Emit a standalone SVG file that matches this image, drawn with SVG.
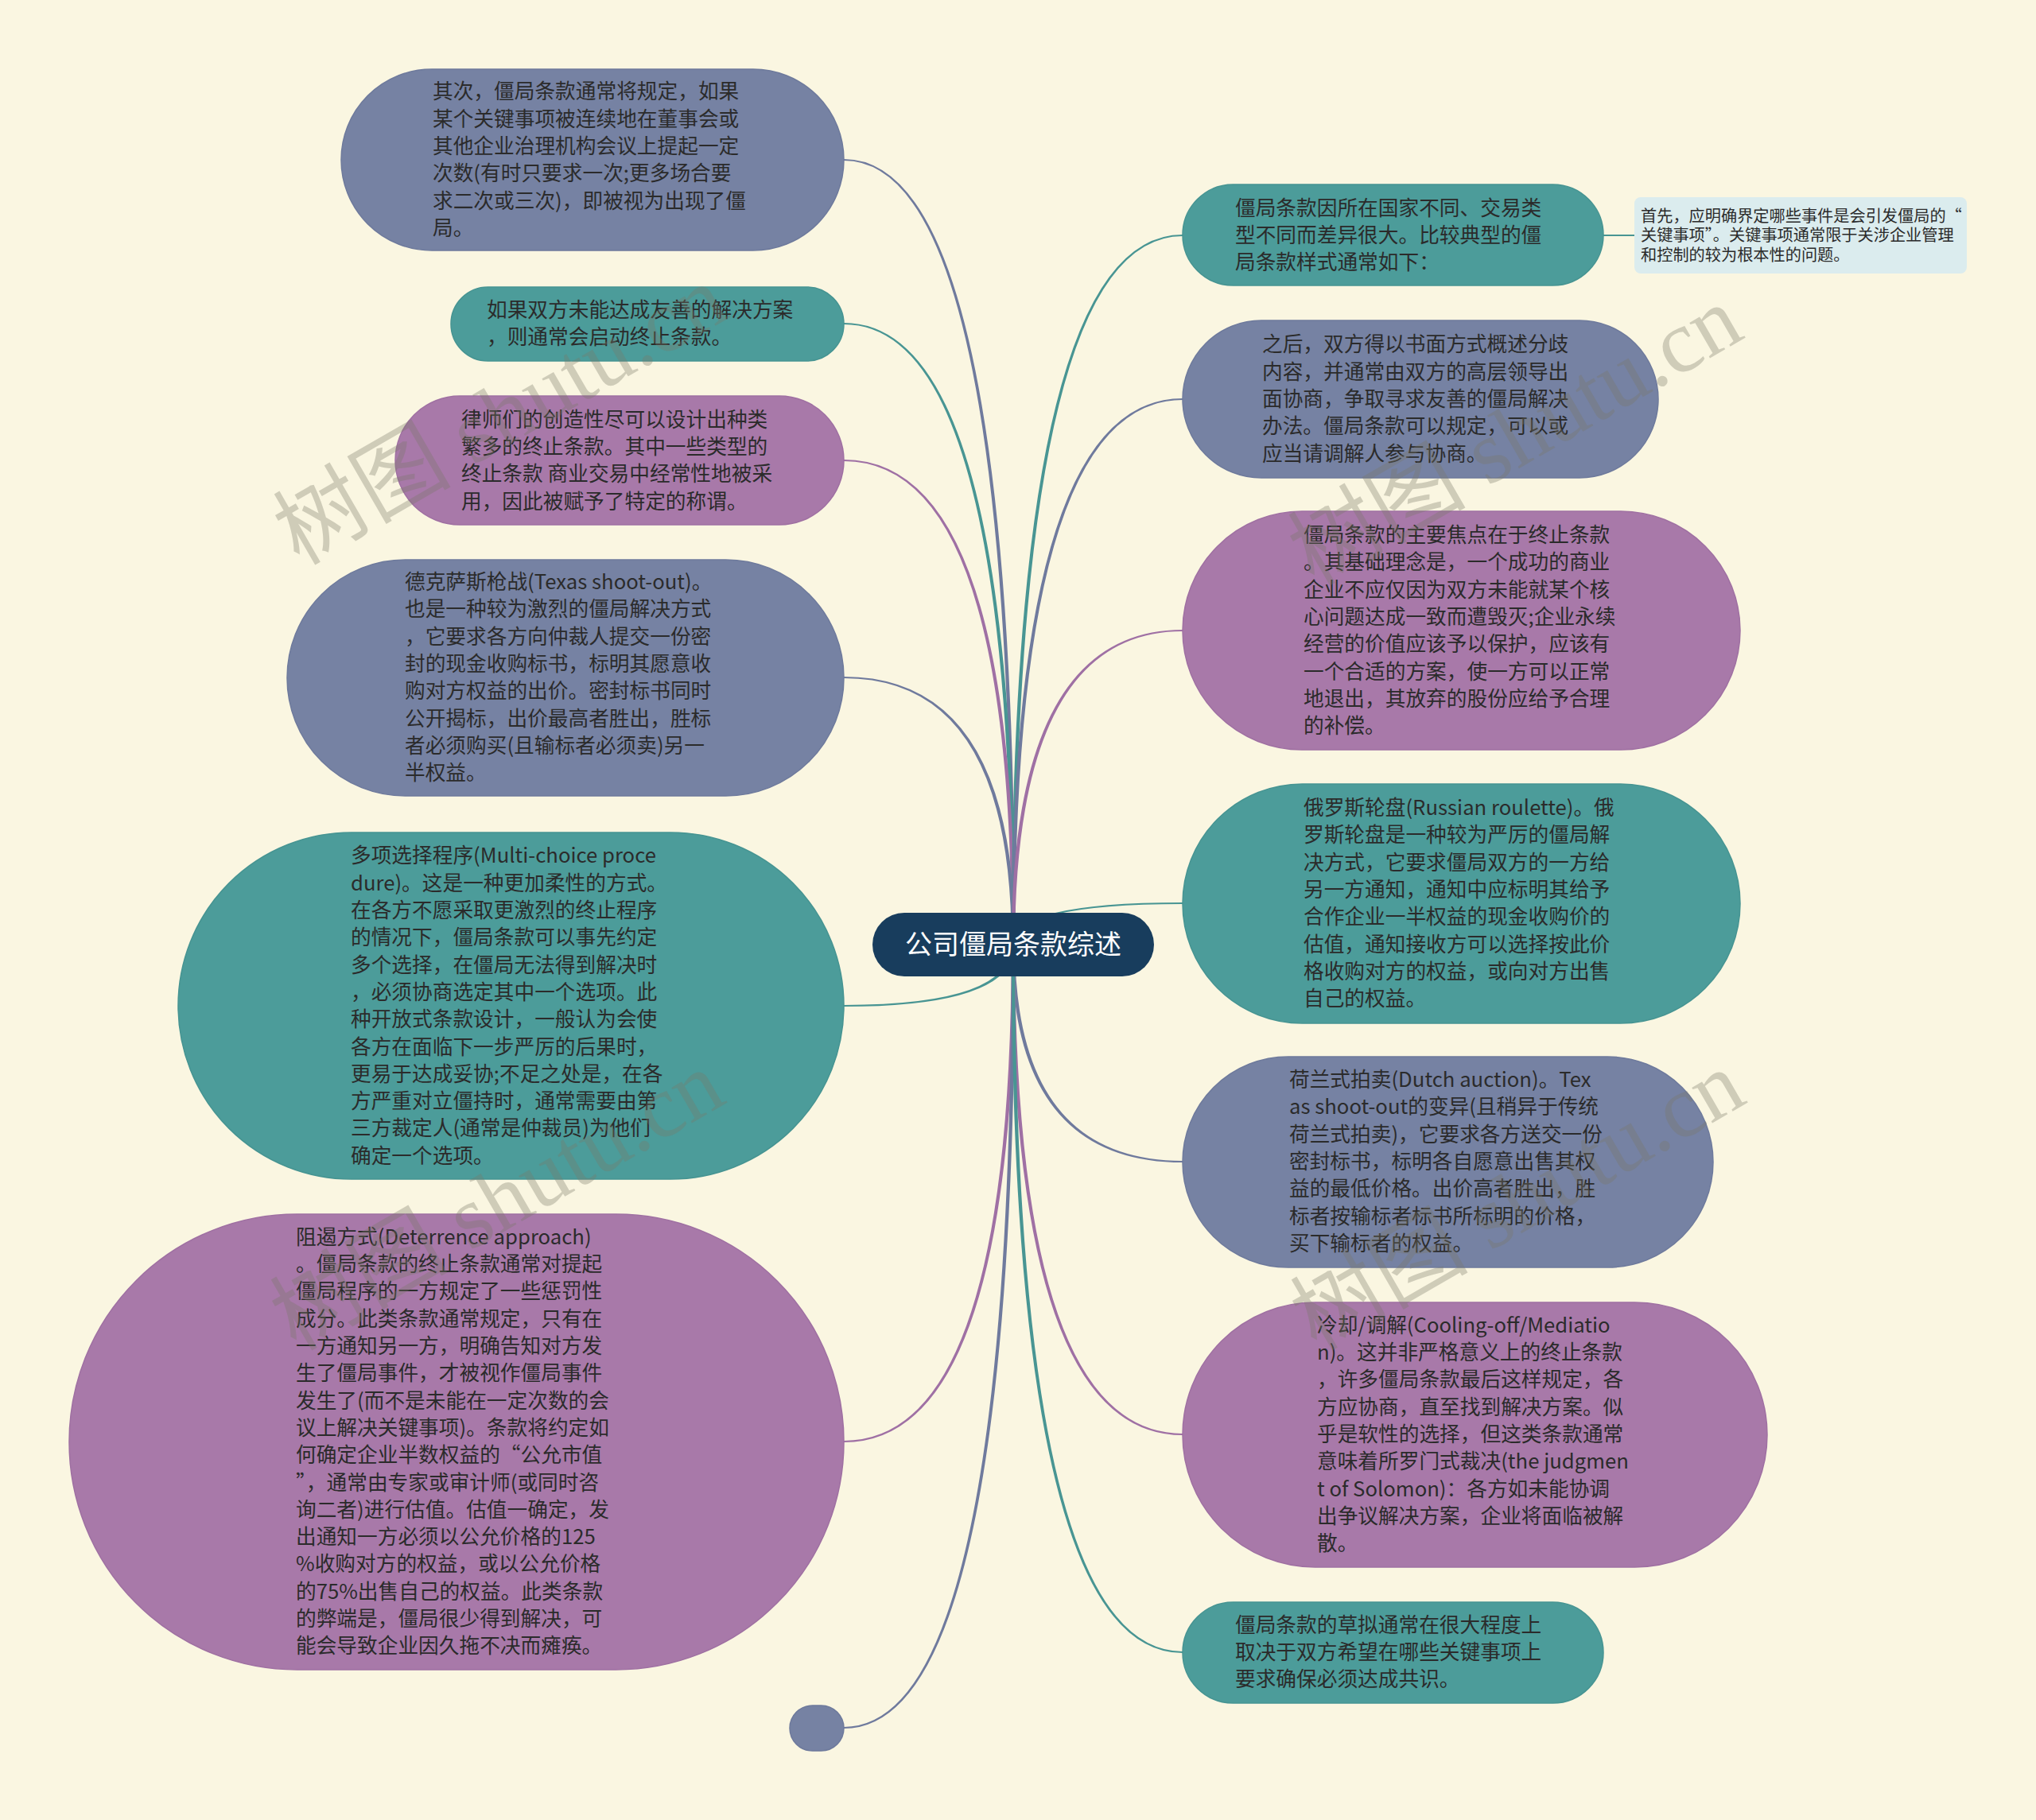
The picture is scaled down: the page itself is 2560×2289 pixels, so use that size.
<svg xmlns="http://www.w3.org/2000/svg" width="2560" height="2289" viewBox="0 0 2560 2289">
<style>
.t{font-family:"Noto Sans CJK SC","Noto Sans",sans-serif;font-size:25.7px;fill:#2b2b2b}
.ts{font-family:"Noto Sans CJK SC","Noto Sans",sans-serif;font-size:20.2px;fill:#2b2b2b}
.ct{font-family:"Noto Sans CJK SC","Noto Sans",sans-serif;font-size:34px;fill:#ffffff}
.slate{fill:#7682a3;stroke:#6e7a9c;stroke-width:1.5}
.teal{fill:#4c9c9a;stroke:#469492;stroke-width:1.5}
.purple{fill:#a879a9;stroke:#9f70a2;stroke-width:1.5}
.cs{fill:#6f7a9d}
.ctl{fill:#489593}
.cp{fill:#9f70a4}
.wm{font-family:"Liberation Serif","Noto Sans CJK SC",serif;font-size:112px;fill:#7a7868;opacity:0.33}
</style>
<rect width="2560" height="2289" fill="#faf6e1"/>
<g id="connectors">
<path class="cs" d="M1276.2 1188 Q1276.2 199.9 1061 199.9 L1061 202.1 Q1271.8 202.1 1271.8 1188 Z"/>
<path class="ctl" d="M1276.2 1188 Q1276.2 405.9 1061 405.9 L1061 408.1 Q1271.8 408.1 1271.8 1188 Z"/>
<path class="cp" d="M1276.2 1188 Q1276.2 577.9 1061 577.9 L1061 580.1 Q1271.8 580.1 1271.8 1188 Z"/>
<path class="cs" d="M1276.2 1188 Q1276.2 850.9 1061 850.9 L1061 853.1 Q1271.8 853.1 1271.8 1188 Z"/>
<path class="ctl" d="M1276.2 1188 Q1276.2 1266.1 1061 1266.1 L1061 1263.9 Q1271.8 1263.9 1271.8 1188 Z"/>
<path class="cp" d="M1276.2 1188 Q1276.2 1814.1 1061 1814.1 L1061 1811.9 Q1271.8 1811.9 1271.8 1188 Z"/>
<path class="cs" d="M1276.2 1188 Q1276.2 2174.1 1061 2174.1 L1061 2171.9 Q1271.8 2171.9 1271.8 1188 Z"/>
<path class="ctl" d="M1271.8 1188 Q1271.8 294.9 1487 294.9 L1487 297.1 Q1276.2 297.1 1276.2 1188 Z"/>
<path class="cs" d="M1271.8 1188 Q1271.8 500.9 1487 500.9 L1487 503.1 Q1276.2 503.1 1276.2 1188 Z"/>
<path class="cp" d="M1271.8 1188 Q1271.8 791.9 1487 791.9 L1487 794.1 Q1276.2 794.1 1276.2 1188 Z"/>
<path class="ctl" d="M1271.8 1188 Q1271.8 1134.9 1487 1134.9 L1487 1137.1 Q1276.2 1137.1 1276.2 1188 Z"/>
<path class="cs" d="M1271.8 1188 Q1271.8 1462.1 1487 1462.1 L1487 1459.9 Q1276.2 1459.9 1276.2 1188 Z"/>
<path class="cp" d="M1271.8 1188 Q1271.8 1805.1 1487 1805.1 L1487 1802.9 Q1276.2 1802.9 1276.2 1188 Z"/>
<path class="ctl" d="M1271.8 1188 Q1271.8 2079.1 1487 2079.1 L1487 2076.9 Q1276.2 2076.9 1276.2 1188 Z"/>
<path d="M2016 296 L2055 296" stroke="#489593" stroke-width="2.2" fill="none"/>
</g>
<g id="node-L1">
<rect class="slate" x="429" y="87" width="632" height="228" rx="114"/>
<text class="t" x="544" y="124.3"><tspan x="544">其次，僵局条款通常将规定，如果</tspan><tspan x="544" dy="34.3">某个关键事项被连续地在董事会或</tspan><tspan x="544" dy="34.3">其他企业治理机构会议上提起一定</tspan><tspan x="544" dy="34.3">次数(有时只要求一次;更多场合要</tspan><tspan x="544" dy="34.3">求二次或三次)，即被视为出现了僵</tspan><tspan x="544" dy="34.3">局。</tspan></text>
</g>
<g id="node-L2">
<rect class="teal" x="567" y="361" width="494" height="93" rx="46.5"/>
<text class="t" x="612" y="398.9"><tspan x="612">如果双方未能达成友善的解决方案</tspan><tspan x="612" dy="34.3">，则通常会启动终止条款。</tspan></text>
</g>
<g id="node-L3">
<rect class="purple" x="497" y="498" width="564" height="162" rx="81"/>
<text class="t" x="580" y="536.6"><tspan x="580">律师们的创造性尽可以设计出种类</tspan><tspan x="580" dy="34.3">繁多的终止条款。其中一些类型的</tspan><tspan x="580" dy="34.3">终止条款 商业交易中经常性地被采</tspan><tspan x="580" dy="34.3">用，因此被赋予了特定的称谓。</tspan></text>
</g>
<g id="node-L4">
<rect class="slate" x="361" y="704" width="700" height="297" rx="148.5"/>
<text class="t" x="509" y="741"><tspan x="509">德克萨斯枪战(Texas shoot-out)。</tspan><tspan x="509" dy="34.3">也是一种较为激烈的僵局解决方式</tspan><tspan x="509" dy="34.3">，它要求各方向仲裁人提交一份密</tspan><tspan x="509" dy="34.3">封的现金收购标书，标明其愿意收</tspan><tspan x="509" dy="34.3">购对方权益的出价。密封标书同时</tspan><tspan x="509" dy="34.3">公开揭标，出价最高者胜出，胜标</tspan><tspan x="509" dy="34.3">者必须购买(且输标者必须卖)另一</tspan><tspan x="509" dy="34.3">半权益。</tspan></text>
</g>
<g id="node-L5">
<rect class="teal" x="224" y="1047" width="837" height="436" rx="218"/>
<text class="t" x="441" y="1085.4"><tspan x="441">多项选择程序(Multi-choice proce</tspan><tspan x="441" dy="34.3">dure)。这是一种更加柔性的方式。</tspan><tspan x="441" dy="34.3">在各方不愿采取更激烈的终止程序</tspan><tspan x="441" dy="34.3">的情况下，僵局条款可以事先约定</tspan><tspan x="441" dy="34.3">多个选择，在僵局无法得到解决时</tspan><tspan x="441" dy="34.3">，必须协商选定其中一个选项。此</tspan><tspan x="441" dy="34.3">种开放式条款设计，一般认为会使</tspan><tspan x="441" dy="34.3">各方在面临下一步严厉的后果时，</tspan><tspan x="441" dy="34.3">更易于达成妥协;不足之处是，在各</tspan><tspan x="441" dy="34.3">方严重对立僵持时，通常需要由第</tspan><tspan x="441" dy="34.3">三方裁定人(通常是仲裁员)为他们</tspan><tspan x="441" dy="34.3">确定一个选项。</tspan></text>
</g>
<g id="node-L6">
<rect class="purple" x="87" y="1527" width="974" height="573" rx="286.5"/>
<text class="t" x="372" y="1564.8"><tspan x="372">阻遏方式(Deterrence approach)</tspan><tspan x="372" dy="34.3">。僵局条款的终止条款通常对提起</tspan><tspan x="372" dy="34.3">僵局程序的一方规定了一些惩罚性</tspan><tspan x="372" dy="34.3">成分。此类条款通常规定，只有在</tspan><tspan x="372" dy="34.3">一方通知另一方，明确告知对方发</tspan><tspan x="372" dy="34.3">生了僵局事件，才被视作僵局事件</tspan><tspan x="372" dy="34.3">发生了(而不是未能在一定次数的会</tspan><tspan x="372" dy="34.3">议上解决关键事项)。条款将约定如</tspan><tspan x="372" dy="34.3">何确定企业半数权益的“公允市值</tspan><tspan x="372" dy="34.3">”，通常由专家或审计师(或同时咨</tspan><tspan x="372" dy="34.3">询二者)进行估值。估值一确定，发</tspan><tspan x="372" dy="34.3">出通知一方必须以公允价格的125</tspan><tspan x="372" dy="34.3">%收购对方的权益，或以公允价格</tspan><tspan x="372" dy="34.3">的75%出售自己的权益。此类条款</tspan><tspan x="372" dy="34.3">的弊端是，僵局很少得到解决，可</tspan><tspan x="372" dy="34.3">能会导致企业因久拖不决而瘫痪。</tspan></text>
</g>
<g id="node-L7">
<rect class="slate" x="993" y="2145" width="68" height="57" rx="28.5"/>
</g>
<g id="node-R1">
<rect class="teal" x="1487" y="232" width="529" height="127" rx="63.5"/>
<text class="t" x="1553" y="270.7"><tspan x="1553">僵局条款因所在国家不同、交易类</tspan><tspan x="1553" dy="34.3">型不同而差异很大。比较典型的僵</tspan><tspan x="1553" dy="34.3">局条款样式通常如下：</tspan></text>
</g>
<g id="node-R1a">
<rect x="2055" y="248" width="418" height="96" rx="8" fill="#dbecee"/>
<text class="ts" x="2063" y="278.6"><tspan x="2063">首先，应明确界定哪些事件是会引发僵局的“</tspan><tspan x="2063" dy="24.8">关键事项”。关键事项通常限于关涉企业管理</tspan><tspan x="2063" dy="24.8">和控制的较为根本性的问题。</tspan></text>
</g>
<g id="node-R2">
<rect class="slate" x="1487" y="403" width="598" height="198" rx="99"/>
<text class="t" x="1587" y="442.4"><tspan x="1587">之后，双方得以书面方式概述分歧</tspan><tspan x="1587" dy="34.3">内容，并通常由双方的高层领导出</tspan><tspan x="1587" dy="34.3">面协商，争取寻求友善的僵局解决</tspan><tspan x="1587" dy="34.3">办法。僵局条款可以规定，可以或</tspan><tspan x="1587" dy="34.3">应当请调解人参与协商。</tspan></text>
</g>
<g id="node-R3">
<rect class="purple" x="1487" y="643" width="701" height="300" rx="150"/>
<text class="t" x="1639" y="682"><tspan x="1639">僵局条款的主要焦点在于终止条款</tspan><tspan x="1639" dy="34.3">。其基础理念是，一个成功的商业</tspan><tspan x="1639" dy="34.3">企业不应仅因为双方未能就某个核</tspan><tspan x="1639" dy="34.3">心问题达成一致而遭毁灭;企业永续</tspan><tspan x="1639" dy="34.3">经营的价值应该予以保护，应该有</tspan><tspan x="1639" dy="34.3">一个合适的方案，使一方可以正常</tspan><tspan x="1639" dy="34.3">地退出，其放弃的股份应给予合理</tspan><tspan x="1639" dy="34.3">的补偿。</tspan></text>
</g>
<g id="node-R4">
<rect class="teal" x="1487" y="986" width="701" height="301" rx="150.5"/>
<text class="t" x="1639" y="1025"><tspan x="1639">俄罗斯轮盘(Russian roulette)。俄</tspan><tspan x="1639" dy="34.3">罗斯轮盘是一种较为严厉的僵局解</tspan><tspan x="1639" dy="34.3">决方式，它要求僵局双方的一方给</tspan><tspan x="1639" dy="34.3">另一方通知，通知中应标明其给予</tspan><tspan x="1639" dy="34.3">合作企业一半权益的现金收购价的</tspan><tspan x="1639" dy="34.3">估值，通知接收方可以选择按此价</tspan><tspan x="1639" dy="34.3">格收购对方的权益，或向对方出售</tspan><tspan x="1639" dy="34.3">自己的权益。</tspan></text>
</g>
<g id="node-R5">
<rect class="slate" x="1487" y="1329" width="667" height="265" rx="132.5"/>
<text class="t" x="1621" y="1367.1"><tspan x="1621">荷兰式拍卖(Dutch auction)。Tex</tspan><tspan x="1621" dy="34.3">as shoot-out的变异(且稍异于传统</tspan><tspan x="1621" dy="34.3">荷兰式拍卖)，它要求各方送交一份</tspan><tspan x="1621" dy="34.3">密封标书，标明各自愿意出售其权</tspan><tspan x="1621" dy="34.3">益的最低价格。出价高者胜出，胜</tspan><tspan x="1621" dy="34.3">标者按输标者标书所标明的价格，</tspan><tspan x="1621" dy="34.3">买下输标者的权益。</tspan></text>
</g>
<g id="node-R6">
<rect class="purple" x="1487" y="1638" width="735" height="333" rx="166.5"/>
<text class="t" x="1656" y="1675.8"><tspan x="1656">冷却/调解(Cooling-off/Mediatio</tspan><tspan x="1656" dy="34.3">n)。这并非严格意义上的终止条款</tspan><tspan x="1656" dy="34.3">，许多僵局条款最后这样规定，各</tspan><tspan x="1656" dy="34.3">方应协商，直至找到解决方案。似</tspan><tspan x="1656" dy="34.3">乎是软性的选择，但这类条款通常</tspan><tspan x="1656" dy="34.3">意味着所罗门式裁决(the judgmen</tspan><tspan x="1656" dy="34.3">t of Solomon)：各方如未能协调</tspan><tspan x="1656" dy="34.3">出争议解决方案，企业将面临被解</tspan><tspan x="1656" dy="34.3">散。</tspan></text>
</g>
<g id="node-R7">
<rect class="teal" x="1487" y="2015" width="529" height="127" rx="63.5"/>
<text class="t" x="1553" y="2052.7"><tspan x="1553">僵局条款的草拟通常在很大程度上</tspan><tspan x="1553" dy="34.3">取决于双方希望在哪些关键事项上</tspan><tspan x="1553" dy="34.3">要求确保必须达成共识。</tspan></text>
</g>
<g id="node-center">
<rect x="1097" y="1148" width="354" height="80" rx="40" fill="#183d5d"/>
<text class="ct" x="1274" y="1200" text-anchor="middle">公司僵局条款综述</text>
</g>
<g id="watermarks">
<text class="wm" transform="translate(376 712) rotate(-30)">树图 shutu.cn</text>
<text class="wm" transform="translate(372 1700) rotate(-30)">树图 shutu.cn</text>
<text class="wm" transform="translate(1652 738) rotate(-30)">树图 shutu.cn</text>
<text class="wm" transform="translate(1655 1700) rotate(-30)">树图 shutu.cn</text>
</g>
</svg>
